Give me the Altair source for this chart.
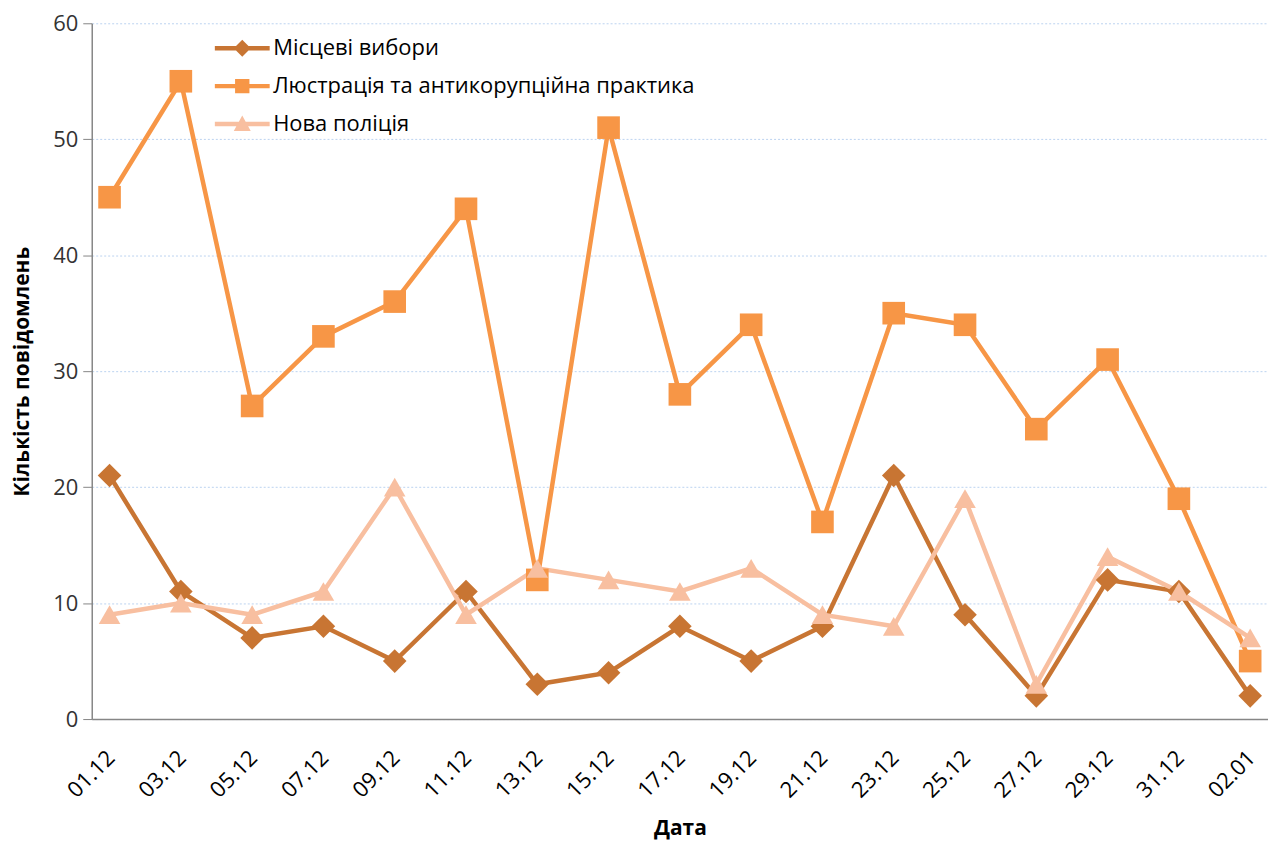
import altair as alt
import pandas as pd

dates = ["01.12", "03.12", "05.12", "07.12", "09.12", "11.12", "13.12", "15.12", "17.12",
         "19.12", "21.12", "23.12", "25.12", "27.12", "29.12", "31.12", "02.01"]
series_names = ["Місцеві вибори", "Люстрація та антикорупційна практика", "Нова поліція"]
local_elections = [21, 11, 7, 8, 5, 11, 3, 4, 8, 5, 8, 21, 9, 2, 12, 11, 2]
lustration = [45, 55, 27, 33, 36, 44, 12, 51, 28, 34, 17, 35, 34, 25, 31, 19, 5]
new_police = [9, 10, 9, 11, 20, 9, 13, 12, 11, 13, 9, 8, 19, 3, 14, 11, 7]
colors = ["#C87533", "#F79646", "#F8BFA0"]
shapes = ["diamond", "square", "triangle-up"]
marker_sizes = [560, 470, 600]

rows = []
for name, vals in zip(series_names, [local_elections, lustration, new_police]):
    for d, v in zip(dates, vals):
        rows.append({"date": d, "value": v, "series": name})
df = pd.DataFrame(rows)

FONT = "Open Sans"

x = alt.X("date:O", sort=dates, title="Дата",
          scale=alt.Scale(padding=0.25),
          axis=alt.Axis(labelAngle=-45, labelFontSize=22, labelColor="#000000",
                        titleFontSize=21, titleFontWeight="bold", titleColor="#000000",
                        ticks=False, domainColor="#868686", domainWidth=1.5,
                        labelPadding=28, labelOffset=-6, titlePadding=16, grid=False))
y = alt.Y("value:Q", title="Кількість повідомлень",
          scale=alt.Scale(domain=[0, 60], nice=False),
          axis=alt.Axis(values=[0, 10, 20, 30, 40, 50, 60], labelFontSize=22,
                        labelColor="#333333", titleFontSize=21, titleFontWeight="bold",
                        titleColor="#000000", tickColor="#868686", tickSize=9,
                        domainColor="#868686", domainWidth=1.5, labelPadding=5,
                        titlePadding=20, gridColor="#BCD3F0", gridDash=[2, 2],
                        gridWidth=1))

# legend symbol paths: line + marker (unit = sqrt(symbolSize)/2 px)
legend_paths = [
    "M-2.75,-0.22L2.75,-0.22L2.75,0.22L-2.75,0.22Z M0,-0.85L0.85,0L0,0.85L-0.85,0Z",
    "M-2.75,-0.22L2.75,-0.22L2.75,0.22L-2.75,0.22Z M-0.72,-0.72L0.72,-0.72L0.72,0.72L-0.72,0.72Z",
    "M-2.75,-0.22L2.75,-0.22L2.75,0.22L-2.75,0.22Z M0,-0.85L0.85,0.7L-0.85,0.7Z",
]

def cscale():
    return alt.Scale(domain=series_names, range=colors)

base = alt.Chart(df)
lines = base.mark_line(strokeWidth=4.5).encode(
    x=x, y=y, color=alt.Color("series:N", sort=series_names, scale=cscale(), legend=None),
    detail="series:N")
points = base.mark_point(filled=True, opacity=1).encode(
    x=x, y=y,
    color=alt.Color("series:N", sort=series_names, scale=cscale(), legend=None),
    shape=alt.Shape("series:N", sort=series_names,
                    scale=alt.Scale(domain=series_names, range=shapes), legend=None),
    size=alt.Size("series:N", sort=series_names,
                  scale=alt.Scale(domain=series_names, range=marker_sizes), legend=None),
)
leg = alt.Legend(title=None, orient="none", legendX=140, legendY=14,
                 labelFontSize=22, labelColor="#000000", symbolSize=400,
                 rowPadding=16, labelOffset=20, labelLimit=700, symbolOpacity=1,
                 symbolStrokeWidth=0)
legend_layer = base.mark_point(filled=True, opacity=0, size=1).encode(
    x=x, y=y,
    color=alt.Color("series:N", sort=series_names, scale=cscale(), legend=leg),
    shape=alt.Shape("series:N", sort=series_names,
                    scale=alt.Scale(domain=series_names, range=legend_paths), legend=leg),
)

chart = alt.layer(lines, points, legend_layer).resolve_scale(
    shape="independent", color="independent", size="independent"
).properties(
    width=1180, height=698,
    padding={"left": 84, "top": 14, "right": 0, "bottom": 120},
    autosize=alt.AutoSizeParams(type="none"),
).configure(font=FONT).configure_view(stroke=None)

chart.save("out.html", embed_options={"renderer": "svg", "actions": False})
